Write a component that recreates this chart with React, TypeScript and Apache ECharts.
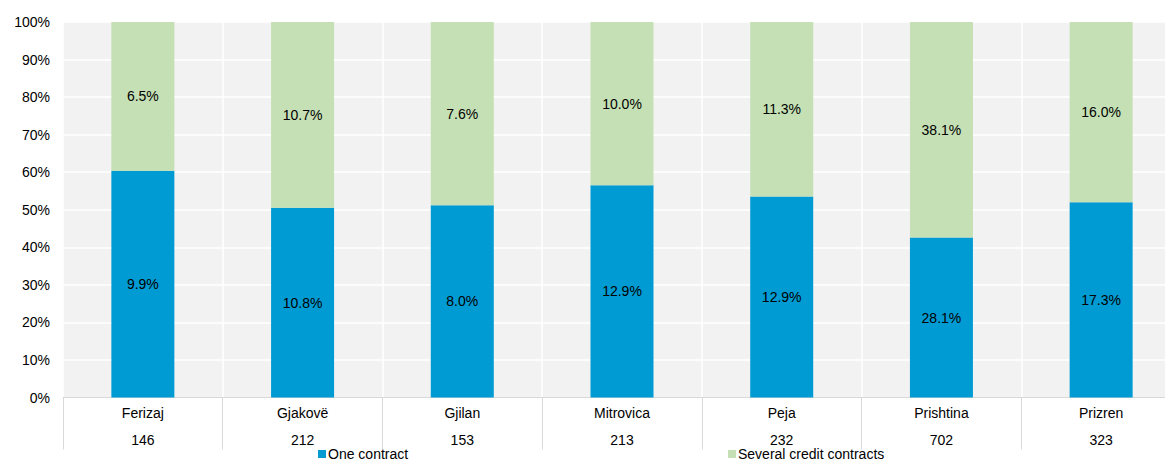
import React, { useEffect, useRef } from "react";
import * as echarts from "echarts";

// Regions and respondent counts per region
const regions = ["Ferizaj", "Gjakovë", "Gjilan", "Mitrovica", "Peja", "Prishtina", "Prizren"];
const respondents = [146, 212, 153, 213, 232, 702, 323];

// Within-region share (%) drawn as bar heights
const oneContractShare = [60.4, 50.5, 51.2, 56.5, 53.5, 42.6, 52.0];
const severalContractsShare = [39.6, 49.5, 48.8, 43.5, 46.5, 57.4, 48.0];

// Share of each group's total (%) printed inside the segments
const oneContractLabel = [9.9, 10.8, 8.0, 12.9, 12.9, 28.1, 17.3];
const severalContractsLabel = [6.5, 10.7, 7.6, 10.0, 11.3, 38.1, 16.0];

const yTicks = [0, 10, 20, 30, 40, 50, 60, 70, 80, 90, 100];

const BLUE = "#009BD3";
const GREEN = "#C5E0B4";
const FONT = "Liberation Sans, Arial, sans-serif";
const FS = 14;

const legendBase = {
  top: 447,
  padding: 0,
  icon: "rect",
  itemWidth: 8,
  itemHeight: 8,
  textStyle: { fontSize: FS, lineHeight: 14, color: "#000", fontFamily: FONT, padding: [0, 0, 0, -3] },
};

export default function App() {
  const ref = useRef<HTMLDivElement>(null);

  useEffect(() => {
    if (!ref.current) return;
    const chart = echarts.init(ref.current, undefined, { renderer: "svg" });
    chart.setOption({
      animation: false,
      textStyle: { fontFamily: FONT },
      grid: {
        left: 63,
        right: 4,
        top: 22,
        bottom: 64.5,
        show: true,
        backgroundColor: "#F2F2F2",
        borderWidth: 0,
      },
      legend: [
        { ...legendBase, data: ["One contract"], left: 318 },
        { ...legendBase, data: ["Several credit contracts"], left: 728 },
      ],
      xAxis: {
        type: "category",
        data: regions,
        boundaryGap: true,
        axisLine: { show: true, lineStyle: { color: "#D9D9D9", width: 1 } },
        axisTick: {
          show: true,
          interval: 0,
          length: 52,
          lineStyle: { color: "#D9D9D9", width: 1 },
        },
        splitLine: { show: true, interval: 0, lineStyle: { color: "#FFFFFF", width: 1.5 } },
        axisLabel: {
          interval: 0,
          margin: -5,
          formatter: (value: string, idx: number) => `{a|${value}}\n{b|${respondents[idx]}}`,
          rich: {
            a: { fontSize: FS, lineHeight: 40, color: "#000", fontFamily: FONT },
            b: { fontSize: FS, lineHeight: 14, color: "#000", fontFamily: FONT },
          },
        },
      },
      yAxis: {
        type: "value",
        min: yTicks[0],
        max: yTicks[yTicks.length - 1],
        interval: yTicks[1] - yTicks[0],
        axisLine: { show: false },
        axisTick: { show: false },
        splitLine: { show: true, lineStyle: { color: "#FFFFFF", width: 1.5 } },
        axisLabel: {
          margin: 13,
          fontSize: FS,
          color: "#000",
          fontFamily: FONT,
          formatter: "{value}%",
        },
      },
      series: [
        {
          name: "One contract",
          type: "bar",
          stack: "total",
          barWidth: 63,
          itemStyle: { color: BLUE },
          label: {
            show: true,
            position: "inside",
            fontSize: FS,
            color: "#000",
            fontFamily: FONT,
            formatter: (p: any) => `${oneContractLabel[p.dataIndex].toFixed(1)}%`,
          },
          data: oneContractShare,
        },
        {
          name: "Several credit contracts",
          type: "bar",
          stack: "total",
          barWidth: 63,
          itemStyle: { color: GREEN },
          label: {
            show: true,
            position: "inside",
            fontSize: FS,
            color: "#000",
            fontFamily: FONT,
            formatter: (p: any) => `${severalContractsLabel[p.dataIndex].toFixed(1)}%`,
          },
          data: severalContractsShare,
        },
      ],
    });
    return () => chart.dispose();
  }, []);

  return (
    <div
      style={{
        position: "fixed",
        left: 0,
        top: 0,
        width: 1165,
        height: 462,
        overflow: "hidden",
        background: "#fff",
      }}
    >
      <div ref={ref} style={{ width: 1185, height: 462 }} />
    </div>
  );
}
